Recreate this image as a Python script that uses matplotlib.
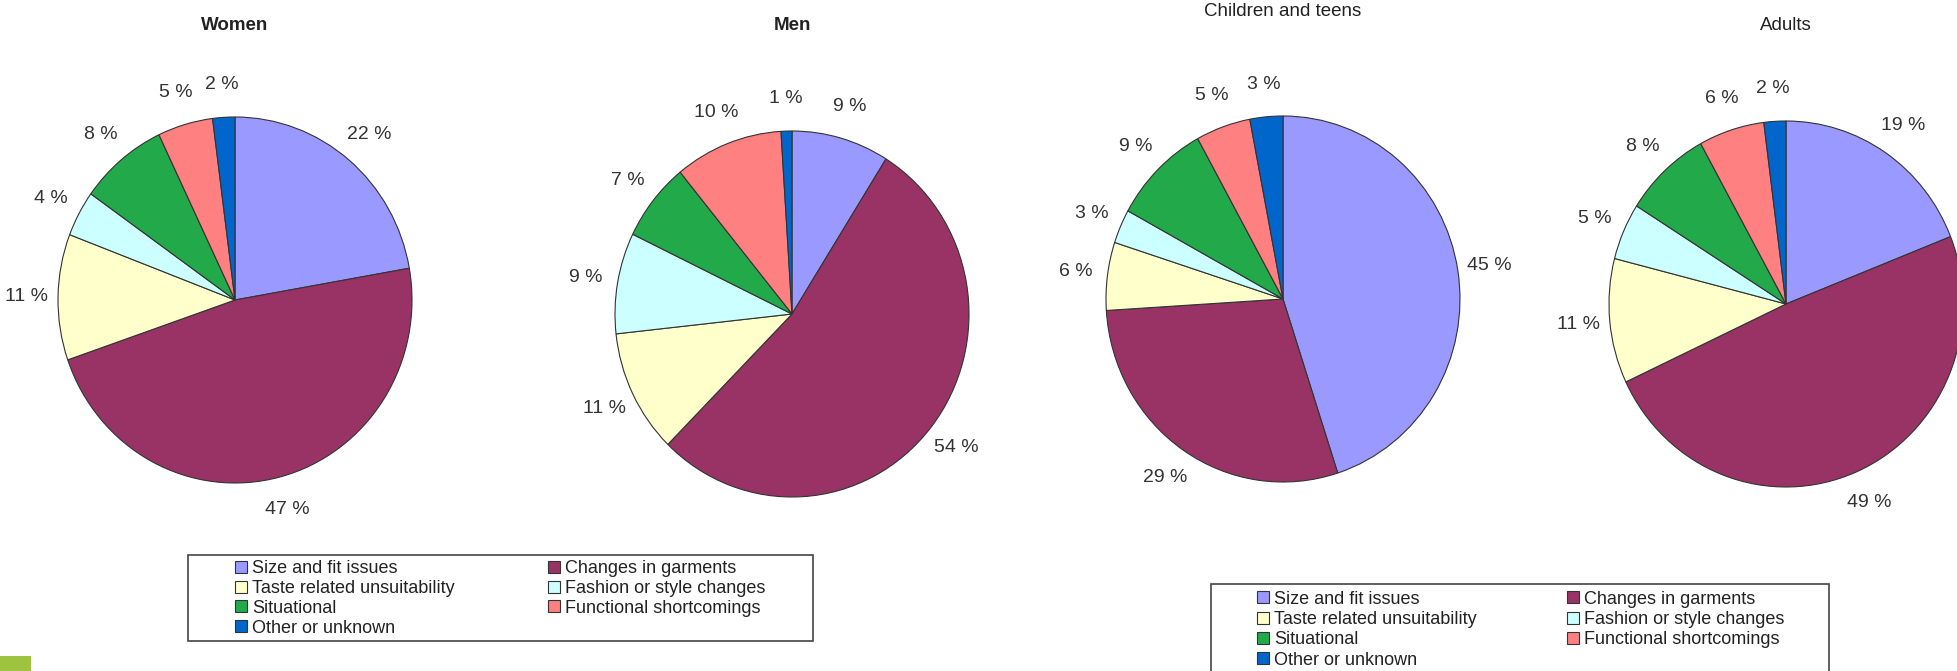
import numpy as np
import matplotlib.pyplot as plt
from matplotlib.patches import Rectangle, Patch

plt.rcParams['font.family'] = ['Liberation Sans', 'DejaVu Sans']

# categories (clockwise from 12 o'clock)
categories = ['Size and fit issues', 'Changes in garments', 'Taste related unsuitability',
              'Fashion or style changes', 'Situational', 'Functional shortcomings',
              'Other or unknown']
colors = ['#9999FF', '#993366', '#FFFFCC', '#CCFFFF', '#22AA4A', '#FF8080', '#0066CC']

women = [22, 47, 11, 4, 8, 5, 2]
men = [9, 54, 11, 9, 7, 10, 1]
children = [45, 29, 6, 3, 9, 5, 3]
adults = [19, 49, 11, 5, 8, 6, 2]

titles = ['Women', 'Men', 'Children and teens', 'Adults']
title_weight = ['bold', 'bold', 'normal', 'normal']
series = [women, men, children, adults]

W, H = 1957, 671
fig = plt.figure(figsize=(W / 100, H / 100), dpi=100)

# pie centres / radii in pixels (x, y from top)
centres = [(235, 300), (792, 314), (1283, 299), (1786, 304)]
title_pos = [(235, 25), (792, 25), (1283, 11), (1786, 26)]
rx, ry = 177, 183
L = 1.5

for vals, (cx, cy), t, tw, (tx, ty) in zip(series, centres, titles, title_weight, title_pos):
    ax = fig.add_axes([(cx - rx * L) / W, 1 - (cy + ry * L) / H, 2 * rx * L / W, 2 * ry * L / H])
    wedges, texts = ax.pie(vals, colors=colors, startangle=90, counterclock=False,
                           labels=[f'{v} %' for v in vals], labeldistance=1.18,
                           wedgeprops=dict(edgecolor='#333333', linewidth=0.8),
                           textprops=dict(fontsize=14, color='#333333'))
    for tx_ in texts:
        tx_.set_ha('center')
        tx_.set_va('center')
    ax.set_aspect('auto')
    ax.set_xlim(-L, L)
    ax.set_ylim(-L, L)
    ax.axis('off')
    fig.text(tx / W, 1 - ty / H, t, ha='center', va='center', fontsize=13.5,
             fontweight=tw, color='#222222')

# legends: two columns each, drawn at pixel positions with a separate frame
col1 = [0, 2, 4, 6]
col2 = [1, 3, 5]
handles = [Patch(facecolor=c, edgecolor='#333333', linewidth=0.8) for c in colors]


def add_legend(box, x1, x2, ytop, spacing):
    bx0, by0, bx1, by1 = box
    fig.patches.append(Rectangle((bx0 / W, 1 - by1 / H), (bx1 - bx0) / W, (by1 - by0) / H,
                                 transform=fig.transFigure, facecolor='none',
                                 edgecolor='#444444', linewidth=1.2))
    for idx, xx in ((col1, x1), (col2, x2)):
        fig.legend([handles[i] for i in idx], [categories[i] for i in idx],
                   loc='upper left', bbox_to_anchor=(xx / W, 1 - ytop / H),
                   frameon=False, borderpad=0, borderaxespad=0, fontsize=13,
                   handlelength=0.65, handleheight=0.65, handletextpad=0.3,
                   labelspacing=spacing, labelcolor='#222222')


add_legend((188, 555, 813, 641), 235, 548, 560, 0.16)
add_legend((1211, 584, 1829, 680), 1257, 1567, 590.5, 0.19)

# green corner mark
fig.patches.append(Rectangle((0, 0), 31 / W, 15 / H, transform=fig.transFigure,
                             facecolor='#9DC33F', edgecolor='none'))

fig.savefig('out.png', dpi=100)
